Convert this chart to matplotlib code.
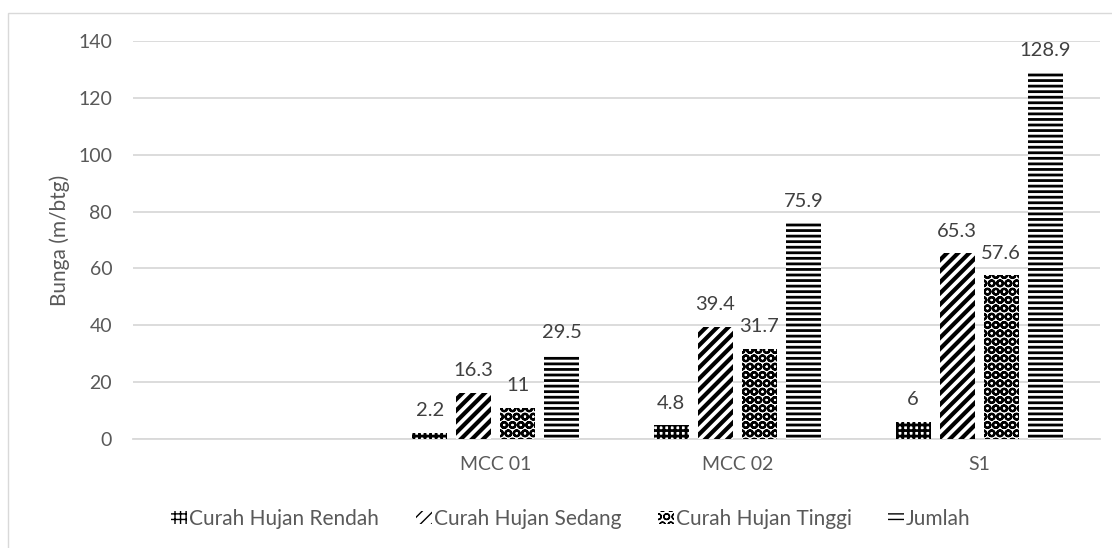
import matplotlib.pyplot as plt
import matplotlib.patches as mpatches
import numpy as np

# Rainfall groups per clone, first slot left empty
categories = ['', 'MCC 01', 'MCC 02', 'S1']
rendah = [np.nan, 2.2, 4.8, 6]
sedang = [np.nan, 16.3, 39.4, 65.3]
tinggi = [np.nan, 11, 31.7, 57.6]
jumlah = [np.nan, 29.5, 75.9, 128.9]
series_names = ['Curah Hujan Rendah', 'Curah Hujan Sedang', 'Curah Hujan Tinggi', 'Jumlah']
y_ticks = [0, 20, 40, 60, 80, 100, 120, 140]

plt.rcParams['font.family'] = ['Lato', 'DejaVu Sans']

fig = plt.figure(figsize=(11.12, 5.48), dpi=100)
ax = fig.add_axes([133/1112, 1-439/548, (1100-133)/1112, (439-41)/548])

# outer chart border
fig.patches.append(mpatches.Rectangle((8/1112, -0.1), 1.2, (548-13)/548 + 0.1,
                                      transform=fig.transFigure, fill=False,
                                      edgecolor='#d9d9d9', linewidth=1.0))

x = np.arange(len(categories))
width = 0.145
step = 0.182
hatches = ['+++', '///', 'OO', '---']
hatch_lw = [2.0, 3.0, 1.6, 2.0]
all_series = [rendah, sedang, tinggi, jumlah]

for i, (vals, name, h) in enumerate(zip(all_series, series_names, hatches)):
    pos = x + (i - 1.5) * step
    with plt.rc_context({'hatch.linewidth': hatch_lw[i]}):
        bars = ax.bar(pos, vals, width, label=name, facecolor='white',
                      edgecolor='black', linewidth=0, hatch=h, zorder=3)
    for xp, v in zip(pos, vals):
        if np.isnan(v):
            continue
        ax.annotate('{:g}'.format(v), (xp, v), xytext=(0, 12), textcoords='offset points',
                    ha='center', va='baseline', fontsize=14.5, color='#404040')

ax.set_xlim(-0.5, 3.5)
ax.set_ylim(0, 140)
ax.set_yticks(y_ticks)
ax.set_xticks(x)
ax.set_xticklabels(categories)
ax.yaxis.grid(True, color='#d9d9d9', linewidth=1.3, zorder=0)
ax.set_axisbelow(True)
for s in ['top', 'right', 'left']:
    ax.spines[s].set_visible(False)
ax.spines['bottom'].set_color('#d9d9d9')
ax.spines['bottom'].set_linewidth(1.3)
ax.tick_params(axis='both', length=0, labelsize=14, labelcolor='#595959')
ax.tick_params(axis='y', pad=15)
ax.tick_params(axis='x', pad=12)
ax.set_ylabel('Bunga (m/btg)', fontsize=15, color='#595959', labelpad=6)

handles, labels = ax.get_legend_handles_labels()
fig.legend(handles, labels, loc='center', bbox_to_anchor=(571/1112, 1-519/548), ncol=4,
           frameon=False, fontsize=15, labelcolor='#595959', handlelength=0.77,
           handleheight=0.6, handletextpad=0.1, columnspacing=1.75)

plt.savefig('out.png', dpi=100)
